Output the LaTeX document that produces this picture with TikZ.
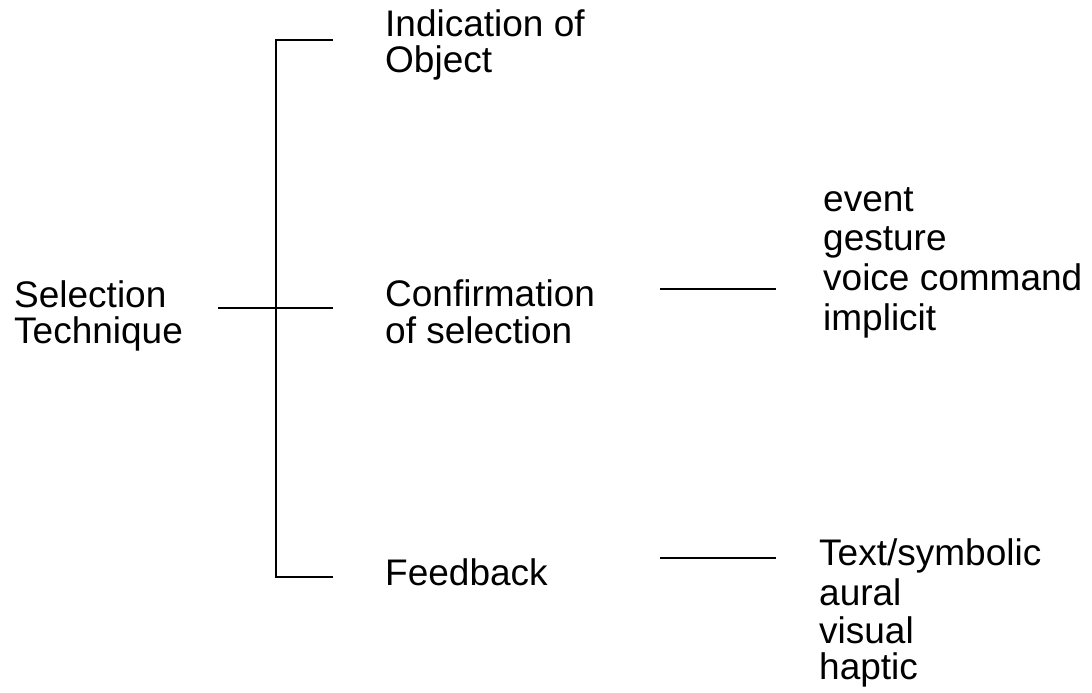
\documentclass[tikz,border=0pt]{standalone}
\usepackage{fontspec}
\setmainfont{Liberation Sans}
\begin{document}
\begin{tikzpicture}[x=1pt,y=-1pt,
  lbl/.style={anchor=base west,inner sep=0pt,font=\fontsize{37}{38}\selectfont},
  conn/.style={line width=1.8pt,black}]
\useasboundingbox (0,0) rectangle (1092,693);
% texts
\node[lbl] (st1) at (14,307) {Selection};
\node[lbl] (st2) at (14,343) {Technique};
\node[lbl] (io1) at (385,37) {Indication of};
\node[lbl] (io2) at (385,73) {Object};
\node[lbl] (cs1) at (385,306) {Confirmation};
\node[lbl] (cs2) at (385,343) {of selection};
\node[lbl] (fb) at (385,585) {Feedback};
\node[lbl] (e1) at (823,211) {event};
\node[lbl] (e2) at (823,250) {gesture};
\node[lbl] (e3) at (823,290) {voice command};
\node[lbl] (e4) at (823,330) {implicit};
\node[lbl] (f1) at (819,565) {Text/symbolic};
\node[lbl] (f2) at (819,605) {aural};
\node[lbl] (f3) at (819,643) {visual};
\node[lbl] (f4) at (819,679) {haptic};
% coordinates
\coordinate (stR) at (218,308);
\coordinate (brTop) at (276,40);
\coordinate (brMid) at (276,308);
\coordinate (brBot) at (276,577);
\coordinate (ioL) at (333,40);
\coordinate (csL) at (333,308);
\coordinate (fbL) at (333,577);
\coordinate (csR) at (660,289);
\coordinate (evL) at (776,289);
\coordinate (fbR) at (660,558);
\coordinate (ftL) at (776,558);
% connectors
\draw[conn] (ioL) -- (brTop) -- (brBot) -- (fbL);
\draw[conn] (stR) -- (brMid) -- (csL);
\draw[conn] (csR) -- (evL);
\draw[conn] (fbR) -- (ftL);
\end{tikzpicture}
\end{document}
